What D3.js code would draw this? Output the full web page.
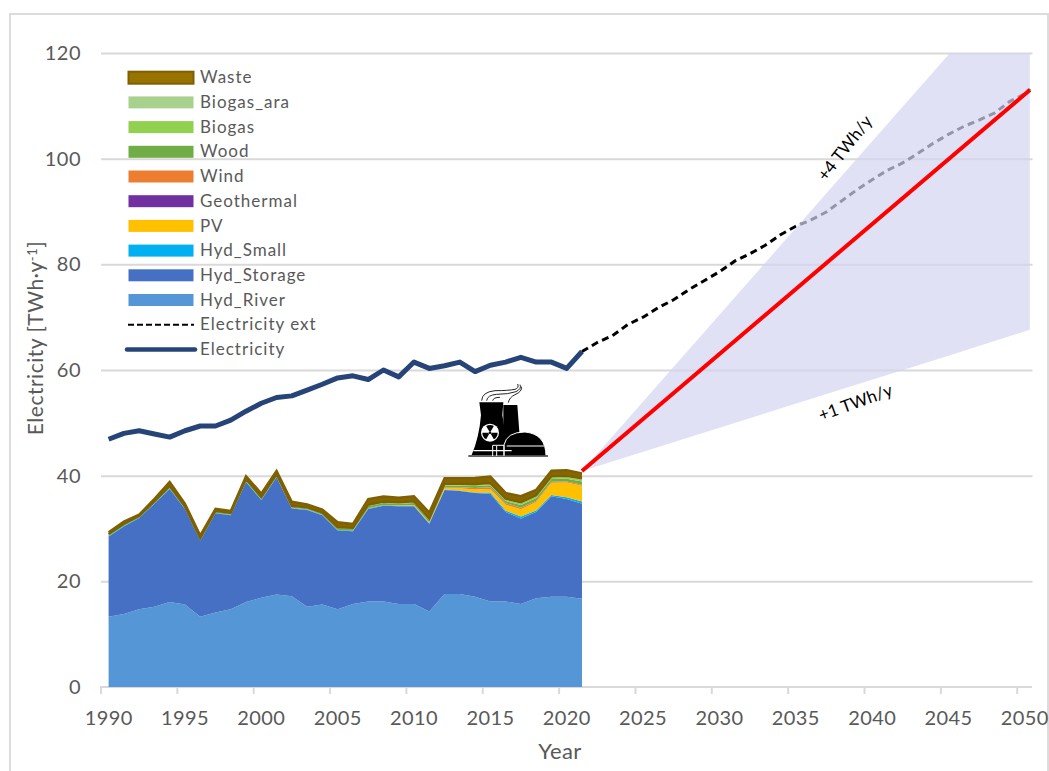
<!DOCTYPE html>
<html><head><meta charset="utf-8">
<script src="https://cdn.jsdelivr.net/npm/d3@7"></script>
<style>html,body{margin:0;padding:0;background:#fff;overflow:hidden}svg{display:block}text{font-family:Lato,"Open Sans",sans-serif}</style>
</head><body><svg id="c" width="1049" height="771"></svg>
<script>
const years=[1990,1991,1992,1993,1994,1995,1996,1997,1998,1999,2000,2001,2002,2003,2004,2005,2006,2007,2008,2009,2010,2011,2012,2013,2014,2015,2016,2017,2018,2019,2020,2021];
const hydRiver=[13.3,13.8,14.7,15.2,16.1,15.6,13.3,14.1,14.7,16.1,16.9,17.5,17.2,15.2,15.6,14.7,15.7,16.2,16.2,15.7,15.7,14.3,17.6,17.6,17.1,16.2,16.2,15.7,16.8,17.1,17.1,16.7];
const hydStorage=[15.2,16.6,17.3,19.5,21.4,18.1,14.4,18.8,17.8,22.7,18.5,22.2,16.6,18.3,16.9,14.9,13.8,17.5,18.1,18.5,18.5,16.6,19.7,19.5,19.6,20.4,16.9,16.2,16.3,19.0,18.5,18.0];
const hydSmall=[0.1,0.1,0.1,0.1,0.1,0.1,0.1,0.1,0.1,0.1,0.1,0.1,0.1,0.1,0.1,0.1,0.1,0.1,0.1,0.1,0.1,0.1,0.1,0.1,0.1,0.2,0.3,0.35,0.3,0.25,0.3,0.4];
const pv=[0,0,0,0,0,0,0,0,0,0,0,0,0,0,0,0,0,0,0,0.05,0.1,0.1,0.2,0.4,0.6,0.7,1.1,1.4,1.6,2.3,2.8,3.0];
const geothermal=[0,0,0,0,0,0,0,0,0,0,0,0,0,0,0,0,0,0,0,0,0,0,0,0,0,0,0,0,0,0,0,0];
const wind=[0,0,0,0,0,0,0,0,0,0,0,0,0.02,0.02,0.02,0.02,0.02,0.03,0.03,0.05,0.05,0.07,0.15,0.2,0.25,0.3,0.3,0.3,0.25,0.2,0.2,0.2];
const wood=[0.2,0.2,0.1,0.2,0.3,0.2,0.2,0.2,0.2,0.3,0.3,0.3,0.2,0.2,0.2,0.3,0.3,0.4,0.4,0.3,0.4,0.4,0.4,0.3,0.4,0.4,0.4,0.5,0.5,0.5,0.5,0.6];
const biogas=[0.03,0.03,0.03,0.03,0.03,0.03,0.03,0.04,0.04,0.05,0.05,0.05,0.06,0.06,0.07,0.08,0.08,0.1,0.1,0.1,0.12,0.14,0.15,0.18,0.2,0.22,0.25,0.28,0.3,0.32,0.34,0.36];
const biogasAra=[0.1,0.1,0.1,0.1,0.1,0.1,0.1,0.1,0.1,0.1,0.1,0.1,0.1,0.1,0.1,0.1,0.1,0.15,0.15,0.15,0.15,0.15,0.15,0.15,0.15,0.15,0.2,0.2,0.2,0.2,0.2,0.2];
const waste=[0.4,0.5,0.3,0.5,0.8,0.6,0.6,0.4,0.4,0.6,0.7,0.7,0.8,0.6,0.6,1.0,0.8,1.1,1.0,0.9,1.0,1.2,1.1,1.1,1.2,1.3,1.1,1.2,1.1,1.1,1.1,1.0];
const electricity=[46.9,48.0,48.5,47.9,47.3,48.5,49.4,49.4,50.5,52.2,53.7,54.8,55.1,56.2,57.3,58.5,58.9,58.2,60.0,58.7,61.5,60.3,60.8,61.5,59.7,60.9,61.5,62.4,61.5,61.5,60.3,63.5];
const extYears=[2021,2022,2023,2024,2025,2026,2027,2028,2029,2030,2031,2032,2033,2034,2035,2036,2037,2038,2039,2040,2041,2042,2043,2044,2045,2046,2047,2048,2049,2050,2050.33];
const electricityExt=[63.5,65.2,66.5,68.6,70.0,71.8,73.3,75.2,76.9,78.6,80.6,82.0,83.6,85.6,87.2,88.4,89.9,92.0,94.1,96.0,97.8,99.2,101.0,102.9,104.6,106.1,107.3,108.6,110.8,112.3,113.2];
const bandYears=[2021,2045.1,2050.33];
const bandUpper=[40.9,120,120];
const bandLower=[40.9,62.8,67.6];
const redYears=[2021,2050.33];
const redValues=[40.9,113];
const axisYears=d3.range(1990,2051);
const xTicks=[1990,1995,2000,2005,2010,2015,2020,2025,2030,2035,2040,2045,2050];
const yTicks=[0,20,40,60,80,100,120];
const layerKeys=["Hyd_River","Hyd_Storage","Hyd_Small","PV","Geothermal","Wind","Wood","Biogas","Biogas_ara","Waste"];
const layerValues=[hydRiver,hydStorage,hydSmall,pv,geothermal,wind,wood,biogas,biogasAra,waste];
const layerColors=["#5596d6","#4670c4","#00b0f0","#ffc000","#7030a0","#ed7d31","#70ad47","#92d050","#a9d18e","#866600"];
const legendNames=["Waste","Biogas_ara","Biogas","Wood","Wind","Geothermal","PV","Hyd_Small","Hyd_Storage","Hyd_River","Electricity ext","Electricity"];

const svg=d3.select("#c");
const band=d3.scaleBand().domain(axisYears).range([101,1032.5]);
const x=d3.scaleLinear().domain([1990,2050]).range([108.6,1024.8]);
const y=d3.scaleLinear().domain([0,120]).range([687,53]);
const G="#d9d9d9",T="#595959";

svg.append("path").attr("d","M10,775V14H1048V775").attr("fill","none").attr("stroke","#dcdcdc").attr("stroke-width",2);

// y axis + grid
const ya=svg.append("g").attr("transform","translate(101,0)").call(d3.axisLeft(y).tickValues(yTicks).tickSize(0).tickPadding(20));
ya.select(".domain").remove();
ya.selectAll("text").attr("fill",T).style("font-size","20px").style("font-family","Lato").style("letter-spacing","0.5px");
ya.selectAll("line").filter(d=>d>0).attr("x2",931.5).attr("stroke",G).attr("stroke-width",2);

// x axis
const xa=svg.append("g").attr("transform","translate(0,687)").call(d3.axisBottom(band).tickValues(xTicks).tickSize(7).tickPadding(17));
xa.select(".domain").attr("d","M101,7V0H1032").attr("stroke",G).attr("stroke-width",2).attr("fill","none");
xa.selectAll("line").attr("stroke",G).attr("stroke-width",2).attr("transform",`translate(${-band.bandwidth()/2},0)`);
xa.selectAll("text").attr("fill",T).style("font-size","20px").style("font-family","Lato").style("letter-spacing","0.4px");

svg.append("text").attr("x",560).attr("y",759).attr("text-anchor","middle").attr("fill",T).style("font-size","22px").style("letter-spacing","0.4px").text("Year");
const yl=svg.append("text").attr("transform","translate(43,338) rotate(-90)").attr("text-anchor","middle").attr("fill",T).style("font-size","21px").style("letter-spacing","0.5px");
yl.append("tspan").text("Electricity [TWh·y");
yl.append("tspan").text("-1").attr("dy",-6).style("font-size","13px");
yl.append("tspan").text("]").attr("dy",6);

// stack
const rows=years.map((yr,i)=>{const r={year:yr};layerKeys.forEach((k,j)=>r[k]=layerValues[j][i]);return r;});
const series=d3.stack().keys(layerKeys)(rows);
const area=d3.area().x(d=>x(d.data.year)).y0(d=>y(d[0])).y1(d=>y(d[1]));
svg.append("g").selectAll("path").data(series).join("path").attr("d",area).attr("fill",(d,i)=>layerColors[i]);
const wasteS=series[series.length-1];
[1,0].forEach(k=>svg.append("path").attr("d",d3.line().x(d=>x(d.data.year)).y(d=>y(d[k]))(wasteS)).attr("fill","none").attr("stroke","#7f6000").attr("stroke-width",2.2));

// lines
const line=d3.line().x(d=>x(d[0])).y(d=>y(d[1]));
svg.append("path").attr("d",line(d3.zip(years,electricity))).attr("fill","none").attr("stroke","#264478").attr("stroke-width",5).attr("stroke-linejoin","round");
svg.append("path").attr("d",line(d3.zip(extYears,electricityExt))).attr("fill","none").attr("stroke","#000").attr("stroke-width",3).attr("stroke-dasharray","7 4.5");

// envelope over dashed line and gridlines
svg.append("path").attr("d",d3.area().x((d,i)=>x(d)).y0((d,i)=>y(bandLower[i])).y1((d,i)=>y(bandUpper[i]))(bandYears)).attr("fill","#d3d4ef").attr("fill-opacity",0.7);
svg.append("path").attr("d",line(d3.zip(redYears,redValues))).attr("fill","none").attr("stroke","#ff0000").attr("stroke-width",4);

svg.append("text").attr("transform","translate(846,149) rotate(-52)").attr("text-anchor","middle").attr("dominant-baseline","middle").attr("fill","#000").style("font-size","17px").text("+4 TWh/y");
svg.append("text").attr("transform","translate(856,404) rotate(-20)").attr("text-anchor","middle").attr("dominant-baseline","middle").attr("fill","#000").style("font-size","17px").text("+1 TWh/y");

// legend
const legendColors=["#997300","#a9d18e","#92d050","#70ad47","#ed7d31","#7030a0","#ffc000","#00b0f0","#4670c4","#5596d6"];
const lg=svg.append("g").selectAll("g").data(legendNames).join("g").attr("transform",(d,i)=>`translate(0,${77.7+i*24.7})`);
lg.filter((d,i)=>i<10).append("rect").attr("x",128.5).attr("y",-6).attr("width",65).attr("height",12)
  .attr("fill",(d,i)=>legendColors[i]).attr("stroke",(d,i)=>i==0?"#7f6000":"none").attr("stroke-width",2);
lg.append("text").attr("x",200).attr("dy","0.33em").attr("fill",T).style("font-size","17px").style("letter-spacing","1px").text(d=>d);
lg.filter(d=>d==="Electricity ext").append("line").attr("x1",128).attr("x2",194).attr("stroke","#000").attr("stroke-width",2).attr("stroke-dasharray","6 3");
lg.filter(d=>d==="Electricity").append("line").attr("x1",127).attr("x2",195).attr("stroke","#264478").attr("stroke-width",4.5).attr("stroke-linecap","round");

// power plant icon
const ic=svg.append("g").attr("transform","translate(440,360) scale(0.3333)");
ic.append("path").attr("d","M190,135H232L238,215L300,285H190Z").attr("fill","#000");
ic.append("path").attr("d","M118,127H190L187,165Q196,230 218,285H95Q118,230 123,165Z").attr("fill","#000");
ic.append("path").attr("d","M192,288V255Q200,216 255,216Q318,222 318,288Z").attr("fill","#000").attr("stroke","#fff").attr("stroke-width",3);
ic.append("path").attr("d","M85,288H324").attr("stroke","#333").attr("stroke-width",4);
ic.append("path").attr("d","M100,272H215M200,258H312").attr("stroke","#fff").attr("stroke-width",3.5);
ic.append("path").attr("d","M158,288V256H192V288M170,258V288").attr("stroke","#fff").attr("stroke-width",3).attr("fill","none");
ic.append("circle").attr("cx",150).attr("cy",218).attr("r",27).attr("fill","#fff");
const arc=d3.arc().innerRadius(5).outerRadius(23);
[[-30,30],[90,150],[210,270]].forEach(a=>ic.append("path").attr("transform","translate(150,218)").attr("d",arc({startAngle:a[0]*Math.PI/180,endAngle:a[1]*Math.PI/180})).attr("fill","#000"));
ic.append("circle").attr("cx",150).attr("cy",218).attr("r",4).attr("fill","#000");
ic.append("path").attr("d","M125,122Q126,96 165,92Q205,92 225,88Q238,84 233,72M140,122Q142,105 170,103Q205,103 228,95Q246,86 240,74M158,122Q160,112 180,112M205,128Q208,112 225,104Q248,94 244,80").attr("fill","none").attr("stroke","#222").attr("stroke-width",3);
</script></body></html>
